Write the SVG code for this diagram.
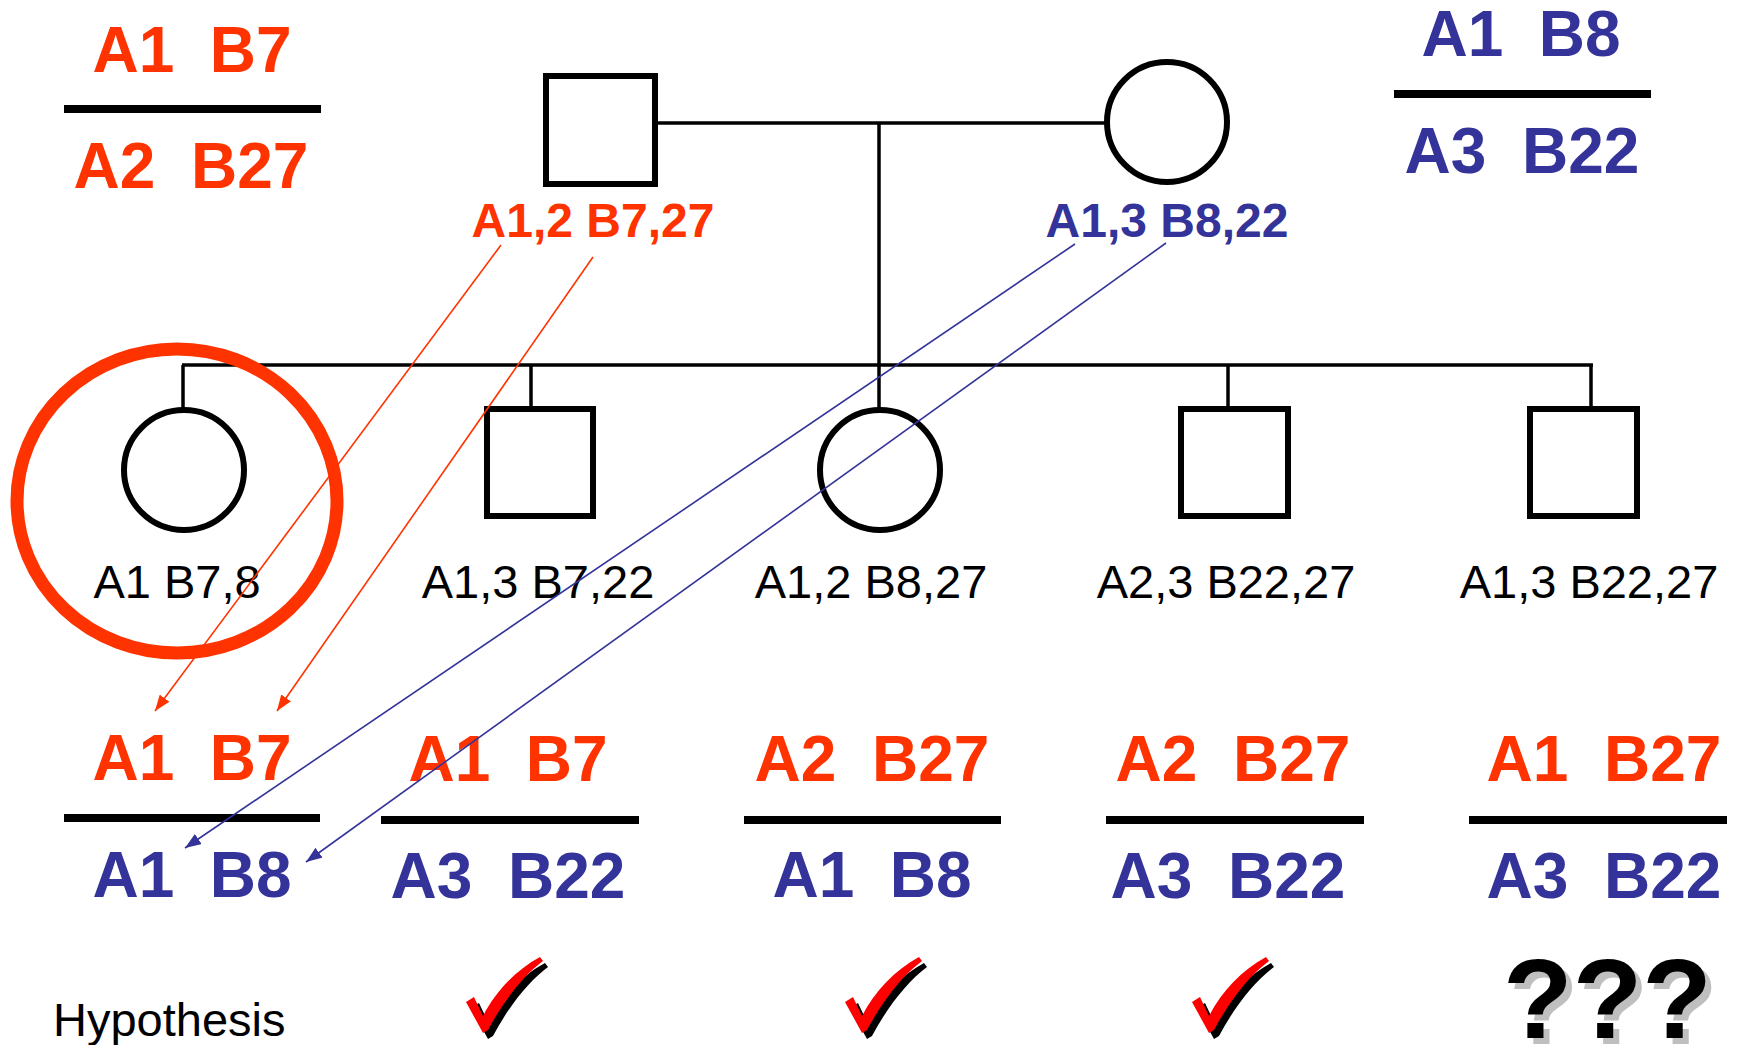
<svg xmlns="http://www.w3.org/2000/svg" width="1738" height="1045" viewBox="0 0 1738 1045">
<style>
.bg{fill:#fff}
.sym{fill:none;stroke:#000;stroke-width:6}
.ln{stroke:#000;stroke-width:3.5;fill:none}
.bar{fill:#000}
.rb{font-family:"Liberation Sans",Arial,sans-serif;font-weight:bold;font-size:64px;fill:#FF3300;text-anchor:middle}
.bb{font-family:"Liberation Sans",Arial,sans-serif;font-weight:bold;font-size:64px;fill:#333399;text-anchor:middle}
.pr{font-size:48px}
.kid{font-family:"Liberation Sans",Arial,sans-serif;font-size:47px;fill:#000;text-anchor:middle}
.hyp{font-family:"Liberation Sans",Arial,sans-serif;font-size:47px;fill:#000}
.red{stroke:#FF3300;stroke-width:1.6;fill:none}
.blue{stroke:#333399;stroke-width:1.6;fill:none}
.q{font-family:"Liberation Sans",Arial,sans-serif;font-weight:bold;font-size:114px}
</style>
<defs>
<marker id="ar" viewBox="0 0 16 12" refX="16" refY="6" markerWidth="16" markerHeight="12" markerUnits="userSpaceOnUse" orient="auto"><path d="M0,0 L16,6 L0,12 Z" fill="#FF3300"/></marker>
<marker id="ab" viewBox="0 0 16 12" refX="16" refY="6" markerWidth="16" markerHeight="12" markerUnits="userSpaceOnUse" orient="auto"><path d="M0,0 L16,6 L0,12 Z" fill="#333399"/></marker>
<path id="chk" d="M0,44 L8,39 L17,58 C30,33 50,12 74,-1 L77,3 C58,17 38,42 22,72 L17,75 Z"/>
<g id="tick"><use href="#chk" x="5" y="6" fill="#000"/><use href="#chk" fill="#FF0000"/></g>
</defs>
<rect class="bg" x="0" y="0" width="1738" height="1045"/>

<g id="father-haplotypes">
<text class="rb" x="192" y="72">A1&#160; B7</text>
<rect class="bar" x="64" y="105" width="257" height="8"/>
<text class="rb" x="191" y="188">A2&#160; B27</text>
</g>
<g id="mother-haplotypes">
<text class="bb" x="1521" y="56">A1&#160; B8</text>
<rect class="bar" x="1394" y="90" width="257" height="8"/>
<text class="bb" x="1522" y="173">A3&#160; B22</text>
</g>

<g id="pedigree-lines">
<line class="ln" x1="655" y1="123" x2="1107" y2="123"/>
<line class="ln" x1="879" y1="123" x2="879" y2="408"/>
<line class="ln" x1="182" y1="365" x2="1593" y2="365"/>
<line class="ln" x1="183" y1="365" x2="183" y2="410"/>
<line class="ln" x1="531" y1="365" x2="531" y2="408"/>
<line class="ln" x1="1228" y1="365" x2="1228" y2="408"/>
<line class="ln" x1="1591" y1="365" x2="1591" y2="408"/>
</g>

<g id="father">
<rect class="sym" x="546" y="76" width="109" height="108"/>
<text class="rb pr" x="593" y="237">A1,2 B7,27</text>
</g>
<g id="mother">
<circle class="sym" cx="1167" cy="122" r="60"/>
<text class="bb pr" x="1167" y="237">A1,3 B8,22</text>
</g>

<g id="highlight">
<ellipse cx="177" cy="501" rx="160" ry="152" fill="none" stroke="#FF3300" stroke-width="13"/>
</g>

<g id="child1">
<circle class="sym" cx="184" cy="470" r="60"/>
<text class="kid" x="177" y="598">A1 B7,8</text>
</g>
<g id="child2">
<rect class="sym" x="487" y="409" width="106" height="107"/>
<text class="kid" x="538" y="598">A1,3 B7,22</text>
</g>
<g id="child3">
<circle class="sym" cx="880" cy="470" r="60"/>
<text class="kid" x="871" y="598">A1,2 B8,27</text>
</g>
<g id="child4">
<rect class="sym" x="1181" y="409" width="107" height="107"/>
<text class="kid" x="1226" y="598">A2,3 B22,27</text>
</g>
<g id="child5">
<rect class="sym" x="1530" y="409" width="107" height="107"/>
<text class="kid" x="1589" y="598">A1,3 B22,27</text>
</g>

<g id="hap1">
<text class="rb" x="192" y="780">A1&#160; B7</text>
<rect class="bar" x="64" y="814" width="256" height="8"/>
<text class="bb" x="192" y="897">A1&#160; B8</text>
</g>
<g id="hap2">
<text class="rb" x="508" y="781">A1&#160; B7</text>
<rect class="bar" x="381" y="816" width="258" height="8"/>
<text class="bb" x="508" y="898">A3&#160; B22</text>
</g>
<g id="hap3">
<text class="rb" x="872" y="781">A2&#160; B27</text>
<rect class="bar" x="744" y="816" width="257" height="8"/>
<text class="bb" x="872" y="897">A1&#160; B8</text>
</g>
<g id="hap4">
<text class="rb" x="1233" y="781">A2&#160; B27</text>
<rect class="bar" x="1106" y="816" width="258" height="8"/>
<text class="bb" x="1228" y="898">A3&#160; B22</text>
</g>
<g id="hap5">
<text class="rb" x="1604" y="781">A1&#160; B27</text>
<rect class="bar" x="1469" y="816" width="258" height="8"/>
<text class="bb" x="1604" y="898">A3&#160; B22</text>
</g>

<g id="hypothesis">
<text class="hyp" x="53" y="1036">Hypothesis</text>
<use href="#tick" x="466" y="958"/>
<use href="#tick" x="845" y="958"/>
<use href="#tick" x="1192" y="958"/>
<text class="q" x="1509" y="1044" fill="#BFBFBF">???</text>
<text class="q" x="1503" y="1038" fill="#000">???</text>
</g>

<g id="connectors">
<line class="red" x1="501" y1="245" x2="155" y2="711" marker-end="url(#ar)"/>
<line class="red" x1="593" y1="257" x2="277" y2="711" marker-end="url(#ar)"/>
<line class="blue" x1="1075" y1="244" x2="185" y2="848" marker-end="url(#ab)"/>
<line class="blue" x1="1166" y1="243" x2="306" y2="862" marker-end="url(#ab)"/>
</g>
</svg>
